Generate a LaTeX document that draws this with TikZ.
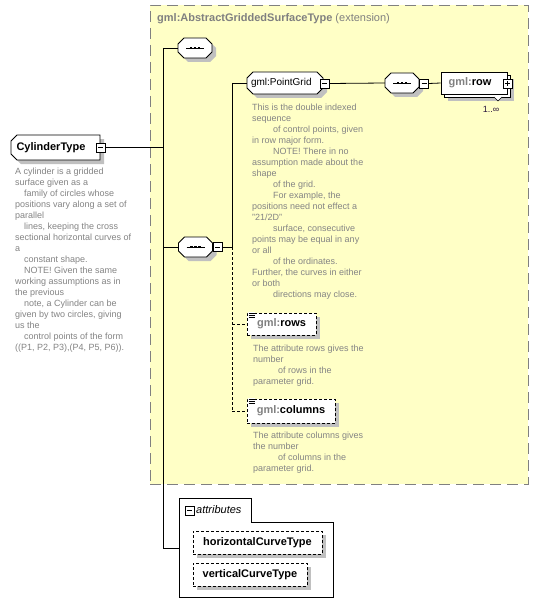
\documentclass[tikz,border=0pt]{standalone}
\usepackage{fontspec}
\setmainfont{Liberation Sans}
\usetikzlibrary{shapes.misc,shadows}
\definecolor{extfill}{RGB}{255,255,198}
\definecolor{extborder}{RGB}{128,128,128}
\definecolor{desc}{RGB}{132,132,132}
\definecolor{shadowgray}{RGB}{192,192,192}
\definecolor{prefix}{RGB}{128,128,128}
\definecolor{mult}{RGB}{40,20,60}
\tikzset{
  shad/.style={drop shadow={shadow xshift=4pt,shadow yshift=-4pt,fill=shadowgray,opacity=1}},
  typebox/.style={chamfered rectangle, chamfered rectangle corners={north west,south west},
    chamfered rectangle xsep=3pt, chamfered rectangle ysep=3pt, draw=black, fill=white, shad,
    inner sep=0pt, line width=0.8pt},
  elembox/.style={chamfered rectangle, chamfered rectangle xsep=3pt, chamfered rectangle ysep=3pt,
    draw=black, fill=white, shad, inner sep=0pt, line width=0.8pt},
  seqbox/.style={rectangle, inner sep=0pt, minimum width=34pt, minimum height=20pt},
  pmbox/.style={rectangle, draw=black, fill=white, minimum size=9pt, inner sep=0pt, line width=0.7pt},
  attrbox/.style={rectangle, draw=black, fill=white, shad, inner sep=0pt, line width=0.8pt,
    dash pattern=on 3pt off 2pt},
  desctext/.style={text=desc, font=\fontsize{9}{11}\selectfont, align=left, inner sep=0pt, anchor=north west},
  namefont/.style={font=\fontsize{11}{13}\selectfont\bfseries},
  conn/.style={draw=black, line width=0.8pt},
  dconn/.style={draw=black, line width=0.8pt, dash pattern=on 3pt off 2pt},
}
\newcommand\seqdraw[1]{%
  \begin{scope}[shift={(#1.center)}]
    \fill[shadowgray] (-7,-6) -- (15,-6) -- (21,0) -- (21,8) -- (15,14) -- (-7,14) -- (-13,8) -- (-13,0) -- cycle;
    \draw[line width=0.8pt, fill=white] (-11,-10) -- (11,-10) -- (17,-4) -- (17,4) -- (11,10) -- (-11,10) -- (-17,4) -- (-17,-4) -- cycle;
    \draw[line width=0.8pt] (-9,0) -- (9,0);
    \foreach \dx in {-4,0,4} \fill (\dx-1.2,-1.2) rectangle (\dx+1.2,1.2);
  \end{scope}}
\begin{document}
\begin{tikzpicture}[x=1pt,y=-1pt]
\useasboundingbox (0,0) rectangle (538,615);
\fill[white] (0,0) rectangle (538,615);

% extension container
\node[rectangle, draw=extborder, fill=extfill, line width=0.9pt, dash pattern=on 11pt off 6pt,
  minimum width=378pt, minimum height=479pt, inner sep=0pt] (ext) at (339,244.5) {};
\node[anchor=west, inner sep=0pt, text=prefix, font=\fontsize{11}{13}\selectfont] (title) at (157,19)
  {\bfseries gml:AbstractGriddedSurfaceType\mdseries\ (extension)};

% CylinderType
\node[typebox, namefont, minimum width=89pt, minimum height=25pt, text width=78pt, align=left]
  (ct) at (55.5,147.5) {CylinderType};
\node[pmbox] (ctm) at (100.5,147.5) {};
\draw[line width=0.8pt] ([xshift=-2.5pt]ctm.center) -- ([xshift=2.5pt]ctm.center);

\node[desctext] (ctd) at (15,168) {A cylinder is a gridded\\surface given as a\\\hspace*{9pt}family of circles whose\\positions vary along a set of\\parallel\\\hspace*{9pt}lines, keeping the cross\\sectional horizontal curves of\\a\\\hspace*{9pt}constant shape.\\\hspace*{9pt}NOTE! Given the same\\working assumptions as in\\the previous\\\hspace*{9pt}note, a Cylinder can be\\given by two circles, giving\\us the\\\hspace*{9pt}control points of the form\\((P1, P2, P3),(P4, P5, P6)).};

% junctions
\coordinate (j1) at (163,48);
\coordinate (j2) at (163,147.5);
\coordinate (j3) at (163,247);
\coordinate (j4) at (163,548);
\coordinate (k1) at (232,83);
\coordinate (k2) at (232,247);
\coordinate (k3) at (232,324);
\coordinate (k4) at (232,411);

% sequence 1
\node[seqbox] (s1) at (195,48) {};
\seqdraw{s1}

% sequence 2
\node[seqbox] (s2) at (195.5,247) {};
\seqdraw{s2}
\node[pmbox] (s2m) at (217.5,247) {};
\draw[line width=0.8pt] ([xshift=-2.5pt]s2m.center) -- ([xshift=2.5pt]s2m.center);

% PointGrid
\node[elembox, font=\fontsize{10}{12}\selectfont, minimum width=76pt, minimum height=22pt, text width=68pt, align=left]
  (pg) at (285,83) {gml:PointGrid};
\node[pmbox] (pgm) at (324.5,83.5) {};
\draw[line width=0.8pt] ([xshift=-2.5pt]pgm.center) -- ([xshift=2.5pt]pgm.center);

\node[desctext] (pgd) at (252,104) {This is the double indexed\\sequence\\\hspace*{21pt}of control points, given\\in row major form.\\\hspace*{21pt}NOTE! There in no\\assumption made about the\\shape\\\hspace*{21pt}of the grid.\\\hspace*{21pt}For example, the\\positions need not effect a\\"21/2D"\\\hspace*{21pt}surface, consecutive\\points may be equal in any\\or all\\\hspace*{21pt}of the ordinates.\\Further, the curves in either\\or both\\\hspace*{21pt}directions may close.};

% sequence 3
\node[seqbox] (s3) at (402,83) {};
\seqdraw{s3}
\node[pmbox] (s3m) at (424,83.5) {};
\draw[line width=0.8pt] ([xshift=-2.5pt]s3m.center) -- ([xshift=2.5pt]s3m.center);

% row (multiple)
\node[rectangle, draw=black, fill=white, shad, minimum width=66pt, minimum height=22pt, inner sep=0pt, line width=0.8pt]
  (rowback) at (477,86) {};
\node[rectangle, draw=black, fill=white, minimum width=66pt, minimum height=22pt, inner sep=0pt, line width=0.8pt, namefont]
  (row) at (474,83) {\textcolor{prefix}{gml:}row\hspace*{8pt}};
\node[pmbox] (rowp) at (507.5,83.5) {};
\draw[line width=0.8pt] ([xshift=-2.5pt]rowp.center) -- ([xshift=2.5pt]rowp.center)
  ([yshift=-2.5pt]rowp.center) -- ([yshift=2.5pt]rowp.center);
\draw[line width=0.6pt, fill=white] (494,97) -- (498,101) -- (502,97);
\node[inner sep=0pt, text=mult, font=\fontsize{9}{11}\selectfont] (rowmult) at (491,109) {1..∞};

% rows attribute
\node[attrbox, namefont, minimum width=69pt, minimum height=22pt] (rows) at (281.5,324)
  {\textcolor{prefix}{gml:}rows};
\fill[white] (247.5,312) rectangle (255,318.5);
\draw[line width=0.6pt] (248.5,313.5) -- (254.5,313.5) (248.5,315.5) -- (254.5,315.5) (248.5,317.5) -- (254.5,317.5);
\node[desctext] (rowsd) at (253,345) {The attribute rows gives the\\number\\\hspace*{25pt}of rows in the\\parameter grid.};

% columns attribute
\node[attrbox, namefont, minimum width=88pt, minimum height=24pt] (cols) at (291,411)
  {\textcolor{prefix}{gml:}columns};
\fill[white] (247.5,398) rectangle (255,404.5);
\draw[line width=0.6pt] (248.5,399.5) -- (254.5,399.5) (248.5,401.5) -- (254.5,401.5) (248.5,403.5) -- (254.5,403.5);
\node[desctext] (colsd) at (253,432) {The attribute columns gives\\the number\\\hspace*{25pt}of columns in the\\parameter grid.};

% attributes group
\draw[line width=0.8pt, fill=white] (179,498) -- (251,498) -- (251,522) -- (333,522) -- (333,597) -- (179,597) -- cycle;
\coordinate (attrw) at (179,548);
\node[pmbox] (attm) at (189.5,510.5) {};
\draw[line width=0.8pt] ([xshift=-2.5pt]attm.center) -- ([xshift=2.5pt]attm.center);
\node[anchor=west, inner sep=0pt, font=\fontsize{11}{13}\selectfont\itshape] (attl) at (196,510) {attributes};

\node[attrbox, namefont, minimum width=129pt, minimum height=23pt] (hct) at (257.5,542.5) {horizontalCurveType};
\node[attrbox, namefont, minimum width=114pt, minimum height=23pt] (vct) at (250,574.5) {verticalCurveType};

% connectors
\draw[conn] (j1) -- (j4);
\draw[conn] (ctm.east) -- (j2);
\draw[conn] (j1) -- (s1.west);
\draw[conn] (j3) -- (s2.west);
\draw[conn] (j4) -- (attrw);
\draw[conn] (s2m.east) -- (k2);
\draw[conn] (k1) -- (k2);
\draw[dconn] (k2) -- (k4);
\draw[conn] (k1) -- (pg.west);
\draw[dconn] (k3) -- (rows.west);
\draw[dconn] (k4) -- (cols.west);
\draw[conn] (pgm.east) -- (s3.west);
\draw[conn] (s3m.east) -- (row.west);
\end{tikzpicture}
\end{document}
